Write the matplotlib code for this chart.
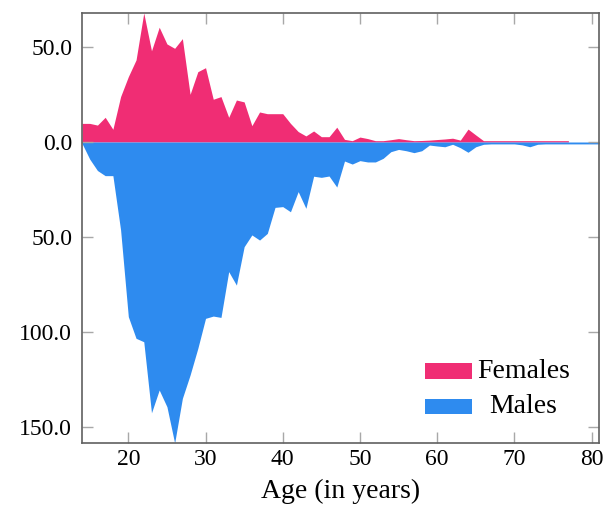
import numpy as np
import matplotlib
matplotlib.use("Agg")
import matplotlib.pyplot as plt
from matplotlib.patches import Rectangle
from matplotlib.ticker import FixedLocator, FuncFormatter

plt.rcParams['font.family'] = ['Liberation Serif', 'DejaVu Serif']

# Age distribution, one value per year of age
female_ages = list(range(14, 78))
females = [9.8, 9.8, 8.9, 13.0, 6.7, 23.9, 34.4, 43.2, 67.9, 48.0,
           60.4, 51.6, 49.3, 54.4, 25.1, 37.0, 39.1, 22.5, 23.9, 13.0,
           22.1, 21.1, 8.6, 15.8, 14.9, 14.9, 14.9, 9.8, 5.5, 3.2,
           5.8, 2.8, 2.8, 7.8, 1.4, 0.7, 2.6, 1.8, 0.7, 0.7,
           1.2, 1.8, 1.2, 0.7, 0.8, 1.0, 1.3, 1.6, 2.0, 1.0,
           6.8, 3.7, 0.7, 0.7, 0.7, 0.7, 0.7, 0.7, 0.7, 0.7,
           0.7, 0.7, 0.7, 0.7]

male_ages = list(range(14, 82))
males = [0.7, 9.0, 15.0, 17.7, 17.7, 46.3, 91.9, 103.3, 105.1, 142.5,
         130.5, 139.3, 158.4, 134.9, 122.6, 108.6, 92.8, 91.6, 92.3, 68.2,
         75.3, 55.1, 48.9, 51.6, 48.1, 34.4, 34.0, 36.7, 26.1, 34.9,
         18.0, 18.6, 17.9, 23.7, 10.0, 11.6, 9.8, 10.5, 10.5, 8.6,
         5.1, 3.9, 4.6, 5.6, 4.6, 1.6, 2.1, 2.5, 1.2, 3.0,
         5.4, 2.5, 1.2, 1.0, 1.0, 1.0, 1.0, 1.5, 2.5, 1.2,
         1.0, 1.0, 1.0, 1.0, 1.0, 1.0, 1.0, 1.0]

x_ticks = [20, 30, 40, 50, 60, 70, 80]
y_ticks = [50, 0, -50, -100, -150]
series_names = ['Females', 'Males']

pink = '#F02D74'
blue = '#2E8BEF'

fig = plt.figure(figsize=(6.07, 5.17), dpi=100)
ax = fig.add_axes([0.1351, 0.1431, 0.8522, 0.8318])

ax.fill_between(female_ages, 0, females, color=pink, linewidth=0)
ax.fill_between(male_ages, 0, -np.array(males), color=blue, linewidth=0)

ax.set_xlim(14, 81)
ax.set_ylim(-max(males), max(females))

ax.xaxis.set_major_locator(FixedLocator(x_ticks))
ax.yaxis.set_major_locator(FixedLocator(y_ticks))
ax.yaxis.set_major_formatter(FuncFormatter(lambda v, p: f"{abs(v):.1f}"))

ax.tick_params(axis='both', which='major', direction='in', length=8, width=1,
               color='#a8a8a8', labelsize=17, top=True, right=True, pad=7)
ax.tick_params(axis='x', pad=4)

for s in ax.spines.values():
    s.set_color('#606060')
    s.set_linewidth(1.2)

ax.set_xlabel('Age (in years)', fontsize=20, labelpad=7)

# Legend: colour swatches with centred labels in the lower right corner
legend_rows = [(series_names[0], pink, 0.1488, 0.0372, 0.1674),
               (series_names[1], blue, 0.0674, 0.0349, 0.0849)]
for name, color, y0, h, yc in legend_rows:
    ax.add_patch(Rectangle((0.663, y0), 0.0909, h, transform=ax.transAxes,
                           facecolor=color, edgecolor='none', clip_on=False))
    ax.text(0.8535, yc, name, transform=ax.transAxes, ha='center', va='center',
            fontsize=20)

fig.savefig('out.png', dpi=100)
